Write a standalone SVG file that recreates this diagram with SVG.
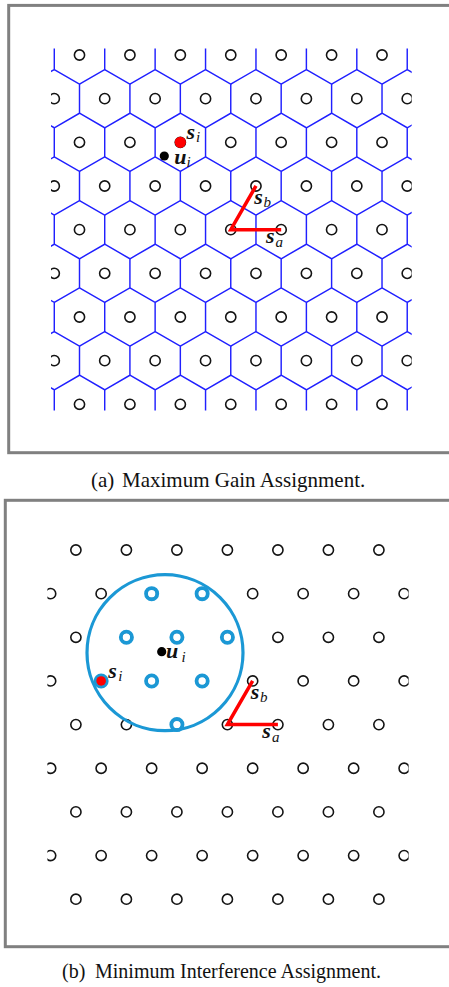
<svg xmlns="http://www.w3.org/2000/svg" xmlns:xlink="http://www.w3.org/1999/xlink" width="449" height="987" viewBox="0 0 449 987">
<style>
.frame{fill:none;stroke:#808080;stroke-width:3}
.hex{fill:none;stroke:#2020ff;stroke-width:1.45}
.site{fill:none;stroke:#141414;stroke-width:1.6}
.ring{fill:none;stroke:#1b98d5;stroke-width:3.8}
.range{fill:none;stroke:#1b98d5;stroke-width:3.2}
.link{fill:none;stroke:#ff0000;stroke-width:3.5;stroke-linejoin:miter}
.lbl{font-family:"Liberation Serif",serif;font-weight:bold;font-style:italic;font-size:22px;fill:#111}
.sub{font-weight:normal;font-size:15px}
.cap{font-family:"Liberation Serif",serif;font-size:20px;fill:#111}
</style>
<defs>
<clipPath id="clipA"><rect x="51" y="48.5" width="360.7" height="362"/></clipPath>
<clipPath id="clipB"><rect x="47.4" y="505" width="361.2" height="435"/></clipPath>
<path id="hexrow" class="hex" d="M0,-29.11l25.21,14.555v29.11l-25.21,14.555m50.42,-58.22l25.21,14.555v29.11l-25.21,14.555m50.42,-58.22l25.21,14.555v29.11l-25.21,14.555m50.42,-58.22l25.21,14.555v29.11l-25.21,14.555m50.42,-58.22l25.21,14.555v29.11l-25.21,14.555m50.42,-58.22l25.21,14.555v29.11l-25.21,14.555m50.42,-58.22l25.21,14.555v29.11l-25.21,14.555m50.42,-58.22l25.21,14.555v29.11l-25.21,14.555m50.42,-58.22l25.21,14.555v29.11l-25.21,14.555"/>
<g id="rowA0" class="site"><circle cx="0" cy="0" r="5.1"/><circle cx="50.42" cy="0" r="5.1"/><circle cx="100.84" cy="0" r="5.1"/><circle cx="151.26" cy="0" r="5.1"/><circle cx="201.68" cy="0" r="5.1"/><circle cx="252.1" cy="0" r="5.1"/><circle cx="302.52" cy="0" r="5.1"/></g>
<g id="rowA1" class="site"><circle cx="0" cy="0" r="5.1"/><circle cx="50.42" cy="0" r="5.1"/><circle cx="100.84" cy="0" r="5.1"/><circle cx="151.26" cy="0" r="5.1"/><circle cx="201.68" cy="0" r="5.1"/><circle cx="252.1" cy="0" r="5.1"/><circle cx="302.52" cy="0" r="5.1"/><circle cx="352.94" cy="0" r="5.1"/></g>
<g id="rowB0" class="site"><circle cx="0" cy="0" r="5.1"/><circle cx="50.5" cy="0" r="5.1"/><circle cx="101" cy="0" r="5.1"/><circle cx="151.5" cy="0" r="5.1"/><circle cx="202" cy="0" r="5.1"/><circle cx="252.5" cy="0" r="5.1"/><circle cx="303" cy="0" r="5.1"/></g>
<g id="rowB1" class="site"><circle cx="0" cy="0" r="5.1"/><circle cx="50.5" cy="0" r="5.1"/><circle cx="101" cy="0" r="5.1"/><circle cx="151.5" cy="0" r="5.1"/><circle cx="202" cy="0" r="5.1"/><circle cx="252.5" cy="0" r="5.1"/><circle cx="303" cy="0" r="5.1"/><circle cx="353.5" cy="0" r="5.1"/></g>
</defs>
<rect width="449" height="987" fill="#ffffff"/>

<!-- Panel (a) -->
<rect class="frame" x="8.7" y="5.4" width="460" height="447.3"/>
<g id="voronoi-a" clip-path="url(#clipA)">
<use xlink:href="#hexrow" x="29.08" y="55"/>
<use xlink:href="#hexrow" x="3.87" y="98.665"/>
<use xlink:href="#hexrow" x="29.08" y="142.33"/>
<use xlink:href="#hexrow" x="3.87" y="185.995"/>
<use xlink:href="#hexrow" x="29.08" y="229.66"/>
<use xlink:href="#hexrow" x="3.87" y="273.325"/>
<use xlink:href="#hexrow" x="29.08" y="316.99"/>
<use xlink:href="#hexrow" x="3.87" y="360.655"/>
<use xlink:href="#hexrow" x="29.08" y="404.32"/>
</g>
<g id="sites-a" clip-path="url(#clipA)">
<use xlink:href="#rowA0" x="79.5" y="55"/>
<use xlink:href="#rowA1" x="54.29" y="98.665"/>
<use xlink:href="#rowA0" x="79.5" y="142.33"/>
<use xlink:href="#rowA1" x="54.29" y="185.995"/>
<use xlink:href="#rowA0" x="79.5" y="229.66"/>
<use xlink:href="#rowA1" x="54.29" y="273.325"/>
<use xlink:href="#rowA0" x="79.5" y="316.99"/>
<use xlink:href="#rowA1" x="54.29" y="360.655"/>
<use xlink:href="#rowA0" x="79.5" y="404.32"/>
</g>
<g id="connectors-a">
<polyline class="link" points="255.97,185.995 230.76,229.66 281.18,229.66"/>
</g>
<g id="node-a-si">
<circle cx="180.34" cy="142.33" r="5.6" fill="#ff0000"/>
<text class="lbl" x="186.5" y="138.5">s<tspan class="sub" x="196" y="142">i</tspan></text>
</g>
<g id="node-a-ui">
<circle cx="164.3" cy="156" r="4.6" fill="#000000"/>
<text class="lbl" x="174.3" y="163.5">u<tspan class="sub" x="186.5" y="166.5">i</tspan></text>
</g>
<g id="node-a-sb">
<text class="lbl" x="254.3" y="203.5">s<tspan class="sub" x="263.5" y="207">b</tspan></text>
</g>
<g id="node-a-sa">
<text class="lbl" x="266" y="242.7">s<tspan class="sub" x="275.5" y="246.5">a</tspan></text>
</g>
<text class="cap" x="91" y="487" style="font-size:21px">(a)<tspan x="122">Maximum Gain Assignment.</tspan></text>

<!-- Panel (b) -->
<rect class="frame" x="5.3" y="500.3" width="460" height="446.4"/>
<g id="sites-b" clip-path="url(#clipB)">
<use xlink:href="#rowB0" x="75.9" y="550"/>
<use xlink:href="#rowB1" x="50.65" y="593.65"/>
<use xlink:href="#rowB0" x="75.9" y="637.3"/>
<use xlink:href="#rowB1" x="50.65" y="680.95"/>
<use xlink:href="#rowB0" x="75.9" y="724.6"/>
<use xlink:href="#rowB1" x="50.65" y="768.25"/>
<use xlink:href="#rowB0" x="75.9" y="811.9"/>
<use xlink:href="#rowB1" x="50.65" y="855.55"/>
<use xlink:href="#rowB0" x="75.9" y="899.2"/>
</g>
<g id="interference-range">
<circle class="range" cx="165" cy="652.7" r="78"/>
</g>
<g id="interferers" class="ring">
<circle cx="151.65" cy="593.65" r="5.6"/>
<circle cx="202.15" cy="593.65" r="5.6"/>
<circle cx="126.4" cy="637.3" r="5.6"/>
<circle cx="176.9" cy="637.3" r="5.6"/>
<circle cx="227.4" cy="637.3" r="5.6"/>
<circle cx="151.65" cy="680.95" r="5.6"/>
<circle cx="202.15" cy="680.95" r="5.6"/>
<circle cx="176.9" cy="724.6" r="5.6"/>
</g>
<g id="connectors-b">
<polyline class="link" points="252.65,680.95 227.4,724.6 277.9,724.6"/>
</g>
<g id="node-b-si">
<circle class="ring" cx="101.15" cy="680.95" r="5.6"/>
<circle cx="101.15" cy="680.95" r="4.8" fill="#ff0000"/>
<text class="lbl" x="108.3" y="677.5">s<tspan class="sub" x="118.3" y="681">i</tspan></text>
</g>
<g id="node-b-ui">
<circle cx="161.7" cy="651.7" r="4.6" fill="#000000"/>
<text class="lbl" x="166" y="658.3">u<tspan class="sub" x="181.5" y="661.5">i</tspan></text>
</g>
<g id="node-b-sb">
<text class="lbl" x="250.7" y="698.5">s<tspan class="sub" x="260" y="702">b</tspan></text>
</g>
<g id="node-b-sa">
<text class="lbl" x="262.3" y="738.3">s<tspan class="sub" x="272" y="742">a</tspan></text>
</g>
<text class="cap" x="62" y="978">(b)<tspan x="95">Minimum Interference Assignment.</tspan></text>
</svg>
